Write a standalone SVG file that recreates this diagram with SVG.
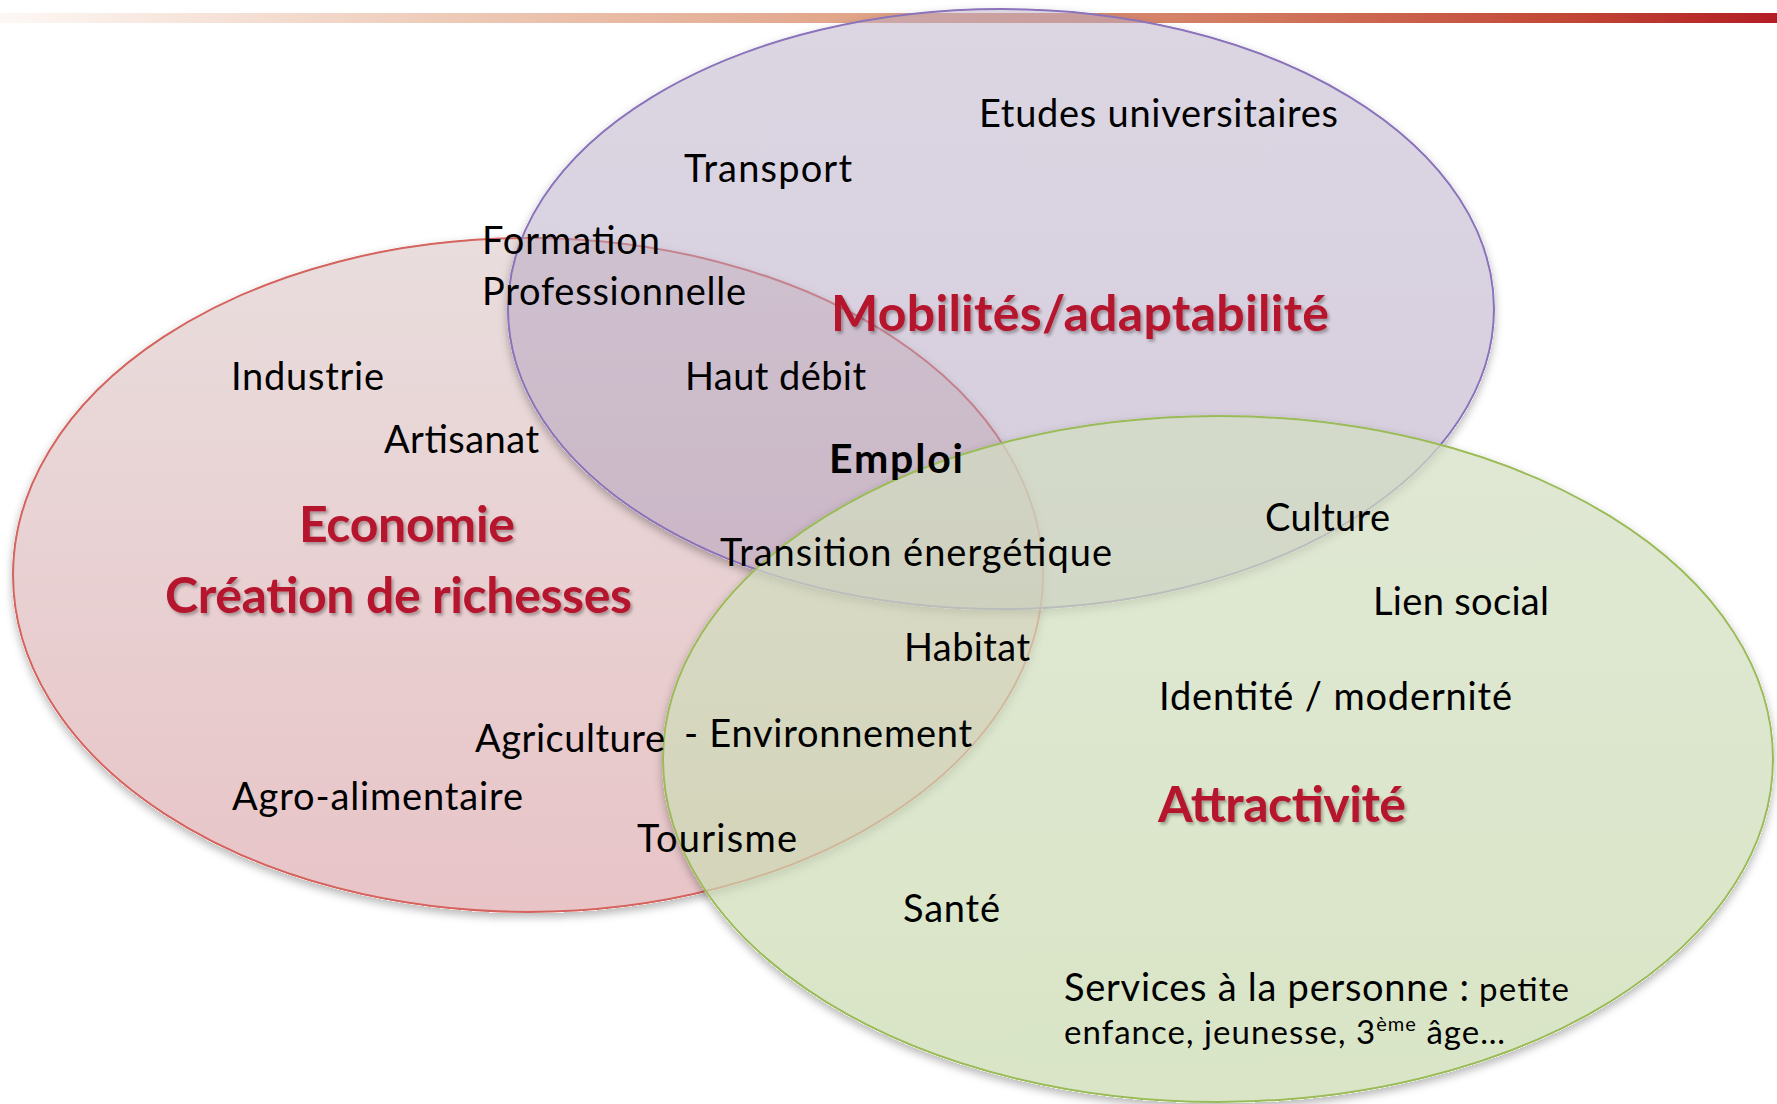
<svg xmlns="http://www.w3.org/2000/svg" width="1777" height="1104" viewBox="0 0 1777 1104">
  <defs>
    <linearGradient id="barGrad" x1="0" y1="0" x2="1" y2="0">
      <stop offset="0" stop-color="#fdf8f5"/>
      <stop offset="0.25" stop-color="#eecbb9"/>
      <stop offset="0.5" stop-color="#e0a185"/>
      <stop offset="0.7" stop-color="#d27a60"/>
      <stop offset="0.88" stop-color="#c24836"/>
      <stop offset="1" stop-color="#b31d24"/>
    </linearGradient>
    <linearGradient id="redGrad" x1="0" y1="0" x2="0" y2="1">
      <stop offset="0" stop-color="#e9dddd"/>
      <stop offset="1" stop-color="#e8c4c7"/>
    </linearGradient>
    <linearGradient id="purGrad" x1="0" y1="0" x2="0" y2="1">
      <stop offset="0" stop-color="#b9adc7"/>
      <stop offset="1" stop-color="#ad9bb9"/>
    </linearGradient>
    <linearGradient id="grnGrad" x1="0" y1="0" x2="0" y2="1">
      <stop offset="0" stop-color="#d3dec2"/>
      <stop offset="1" stop-color="#c9daae"/>
    </linearGradient>
    <filter id="shapeShadow" x="-5%" y="-5%" width="110%" height="115%">
      <feComponentTransfer in="SourceAlpha" result="solid">
        <feFuncA type="linear" slope="20"/>
      </feComponentTransfer>
      <feGaussianBlur in="solid" stdDeviation="4" result="blur"/>
      <feOffset in="blur" dx="0" dy="4" result="off"/>
      <feFlood flood-color="#000000" flood-opacity="0.28"/>
      <feComposite in2="off" operator="in" result="shadow"/>
      <feComposite in="shadow" in2="solid" operator="out" result="outer"/>
      <feMerge>
        <feMergeNode in="outer"/>
        <feMergeNode in="SourceGraphic"/>
      </feMerge>
    </filter>
    <filter id="textShadow" x="-5%" y="-20%" width="110%" height="150%">
      <feDropShadow dx="2" dy="2.5" stdDeviation="1.6" flood-color="#000000" flood-opacity="0.3"/>
    </filter>
  </defs>
  <style>
    .t { font-family: Lato, "Open Sans", "Liberation Sans", sans-serif; font-size: 38px; fill: #000000; }
    .s { font-size: 33px; }
    .h { font-family: Lato, "Open Sans", "Liberation Sans", sans-serif; font-size: 50px; font-weight: bold; fill: #b5152d; filter: url(#textShadow); }
    .b { font-family: Lato, "Open Sans", "Liberation Sans", sans-serif; font-size: 41px; font-weight: bold; fill: #000000; }
    .set { stroke-width: 2; }
  </style>

  <rect id="top-bar" x="0" y="13" width="1777" height="10" fill="url(#barGrad)"/>

  <g id="sets">
    <g id="set-economie">
      <ellipse class="set" cx="528" cy="575" rx="515" ry="337" fill="url(#redGrad)" stroke="#d4625d" filter="url(#shapeShadow)"/>
    </g>
    <g id="set-mobilites">
      <ellipse class="set" cx="1001" cy="309" rx="493" ry="300" fill="url(#purGrad)" fill-opacity="0.5" stroke="#8a73ba" filter="url(#shapeShadow)"/>
    </g>
    <g id="set-attractivite">
      <ellipse class="set" cx="1218" cy="759" rx="555" ry="343" fill="url(#grnGrad)" fill-opacity="0.7" stroke="#9bbb59" filter="url(#shapeShadow)"/>
    </g>
  </g>

  <g id="labels">
    <g id="label-mobilites">
      <text class="h" x="831" y="331" textLength="498" lengthAdjust="spacing">Mobilités/adaptabilité</text>
      <text class="t" x="979" y="127" textLength="359" lengthAdjust="spacing">Etudes universitaires</text>
      <text class="t" x="684" y="182" textLength="168" lengthAdjust="spacing">Transport</text>
      <text class="t" x="482" y="254" textLength="178" lengthAdjust="spacing">Formation</text>
      <text class="t" x="482" y="305" textLength="264" lengthAdjust="spacing">Professionnelle</text>
      <text class="t" x="685" y="390" textLength="181" lengthAdjust="spacing">Haut débit</text>
    </g>
    <g id="label-economie">
      <text class="h" x="299" y="542" textLength="216" lengthAdjust="spacing">Economie</text>
      <text class="h" x="165" y="613" textLength="467" lengthAdjust="spacing">Création de richesses</text>
      <text class="t" x="231" y="390" textLength="153" lengthAdjust="spacing">Industrie</text>
      <text class="t" x="384" y="453" textLength="155" lengthAdjust="spacing">Artisanat</text>
      <text class="t" x="475" y="752" textLength="190" lengthAdjust="spacing">Agriculture</text>
      <text class="t" x="232" y="810" textLength="291" lengthAdjust="spacing">Agro-alimentaire</text>
      <text class="t" x="637" y="852" textLength="160" lengthAdjust="spacing">Tourisme</text>
    </g>
    <g id="label-emploi">
      <text class="b" x="829" y="473" textLength="134" lengthAdjust="spacing">Emploi</text>
      <text class="t" x="720" y="566" textLength="392" lengthAdjust="spacing">Transition énergétique</text>
      <text class="t" x="904" y="661" textLength="126" lengthAdjust="spacing">Habitat</text>
      <text class="t" x="684" y="747" textLength="288" lengthAdjust="spacing">- Environnement</text>
    </g>
    <g id="label-attractivite">
      <text class="h" x="1158" y="822" textLength="248" lengthAdjust="spacing">Attractivité</text>
      <text class="t" x="1265" y="531" textLength="125" lengthAdjust="spacing">Culture</text>
      <text class="t" x="1373" y="615" textLength="176" lengthAdjust="spacing">Lien social</text>
      <text class="t" x="1159" y="710" textLength="353" lengthAdjust="spacing">Identité / modernité</text>
      <text class="t" x="903" y="922" textLength="97" lengthAdjust="spacing">Santé</text>
      <text class="t" x="1064" y="1001" textLength="405" lengthAdjust="spacing">Services à la personne :</text>
      <text class="t s" x="1479" y="1001" textLength="90" lengthAdjust="spacing">petite</text>
      <text class="t s" x="1064" y="1044" textLength="441" lengthAdjust="spacing">enfance, jeunesse, 3<tspan font-size="20" dy="-13">ème</tspan><tspan dy="13"> âge…</tspan></text>
    </g>
  </g>
</svg>
